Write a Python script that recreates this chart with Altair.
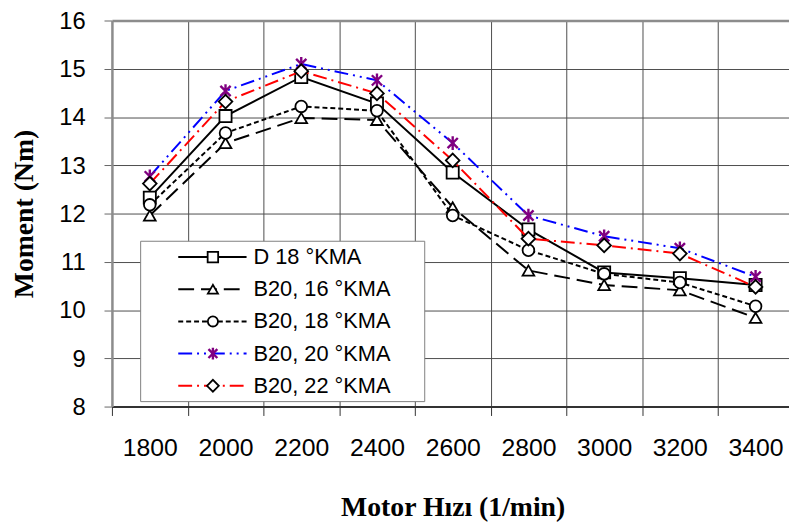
import altair as alt
import pandas as pd

rpm = [1800, 2000, 2200, 2400, 2600, 2800, 3000, 3200, 3400]
series_names = ["D 18 °KMA", "B20, 16 °KMA", "B20, 18 °KMA", "B20, 20 °KMA", "B20, 22 °KMA"]
d18 = [12.33, 14.02, 14.83, 14.28, 12.85, 11.67, 10.78, 10.66, 10.52]
b16 = [11.96, 13.46, 13.98, 13.94, 12.13, 10.82, 10.52, 10.41, 9.84]
b18 = [12.18, 13.67, 14.22, 14.13, 11.96, 11.24, 10.75, 10.57, 10.08]
b20 = [12.77, 14.54, 15.10, 14.76, 13.46, 11.96, 11.53, 11.28, 10.69]
b22 = [12.62, 14.32, 14.95, 14.49, 13.10, 11.48, 11.34, 11.17, 10.48]
y_ticks = [8, 9, 10, 11, 12, 13, 14, 15, 16]

values = [d18, b16, b18, b20, b22]

ASTER = "M-0.75,-0.75L0.75,0.75M-0.75,0.75L0.75,-0.75M0,-1L0,1"
line_colors = ["#000000", "#000000", "#000000", "#0000ff", "#ff0000"]
dashes = [None, [16, 7], [5, 3], [14, 5, 2, 5, 2, 5], [14, 5, 2, 5]]
shapes = ["square", "triangle-up", "circle", ASTER, "diamond"]
marker_stroke = ["#000000", "#000000", "#000000", "#800080", "#000000"]
sizes = [150, 140, 140, 190, 190]
marker_sw = [1.8, 1.8, 1.8, 2.4, 1.8]

rows = []
for name, vals in zip(series_names, values):
    for r, v in zip(rpm, vals):
        rows.append({"series": name, "rpm": r, "moment": v})
df = pd.DataFrame(rows)

FONT = "Arial, Liberation Sans, sans-serif"
TFONT = "Times New Roman, Liberation Serif, serif"

x_enc = alt.X(
    "rpm:O",
    scale=alt.Scale(type="band", paddingInner=0, paddingOuter=0, range=[0, 688.5]),
    axis=alt.Axis(
        title="Motor Hızı (1/min)",
        tickBand="extent",
        grid=True,
        gridColor="#4d4d4d",
        gridWidth=1,
        domainColor="#333333",
        domainWidth=2,
        tickColor="#333333",
        tickSize=9,
        tickWidth=1,
        labelFont=FONT,
        labelFontSize=25,
        labelPadding=20,
        labelColor="#000000",
        labelAngle=0,
        titleFont=TFONT,
        titleFontSize=28,
        titleFontWeight="bold",
        titleColor="#000000",
        titleY=110,
        titleBaseline="alphabetic",
    ),
)
y_enc = alt.Y(
    "moment:Q",
    scale=alt.Scale(domain=[8, 16], nice=False, zero=False),
    axis=alt.Axis(
        values=y_ticks,
        title="Moment (Nm)",
        grid=True,
        gridColor={"condition": {"test": "datum.value == 16", "value": "#8c8c8c"}, "value": "#4d4d4d"},
        gridWidth={"condition": {"test": "datum.value == 16", "value": 2.5}, "value": 1},
        domainColor="#8c8c8c",
        domainWidth=2.5,
        tickColor="#666666",
        tickSize=8,
        tickWidth=1,
        labelFont=FONT,
        labelFontSize=24,
        labelPadding=19,
        labelOffset=1,
        labelColor="#000000",
        titleFont=TFONT,
        titleFontSize=28,
        titleFontWeight="bold",
        titleColor="#000000",
        titleX=-88,
        titleY=195,
        titleAngle=270,
        titleBaseline="middle",
    ),
)

layers = []
for i, name in enumerate(series_names):
    sub = df[df["series"] == name]
    lkw = dict(color=line_colors[i], strokeWidth=2)
    if dashes[i] is not None:
        lkw["strokeDash"] = dashes[i]
    layers.append(alt.Chart(sub).mark_line(**lkw).encode(x=x_enc, y=y_enc))
    layers.append(
        alt.Chart(sub)
        .mark_point(shape=shapes[i], size=sizes[i], fill="#ffffff", fillOpacity=1,
                    stroke=marker_stroke[i], strokeWidth=marker_sw[i], opacity=1)
        .encode(x=x_enc, y=y_enc)
    )

# legend box
box_df = pd.DataFrame({"k": [0]})
layers.append(
    alt.Chart(box_df).mark_rect(fill="#ffffff", stroke="#808080", strokeWidth=1).encode(
        x=alt.value(29), x2=alt.value(316), y=alt.value(223), y2=alt.value(385)
    )
)
for i, name in enumerate(series_names):
    yy = 239 + 32.5 * i
    ldf = pd.DataFrame({"series": [name]})
    rkw = dict(color=line_colors[i], strokeWidth=2)
    if dashes[i] is not None:
        rkw["strokeDash"] = dashes[i]
    layers.append(alt.Chart(ldf).mark_rule(**rkw).encode(
        x=alt.value(67), x2=alt.value(136), y=alt.value(yy)))
    layers.append(alt.Chart(ldf).mark_point(
        shape=shapes[i], size=sizes[i] * 0.75, fill="#ffffff", fillOpacity=1,
        stroke=marker_stroke[i], strokeWidth=marker_sw[i], opacity=1
    ).encode(x=alt.value(102), y=alt.value(yy)))
    layers.append(alt.Chart(ldf).mark_text(
        align="left", baseline="middle", font=FONT, fontSize=22, color="#000000"
    ).encode(x=alt.value(143), y=alt.value(yy), text="series:N"))

chart = (
    alt.layer(*layers)
    .properties(
        width=684,
        height=390,
        autosize=alt.AutoSizeParams(type="none"),
        padding={"left": 105, "top": 10, "right": 0, "bottom": 116},
    )
    .configure_view(stroke=None)
)

chart.save("out.html", embed_options={"renderer": "svg", "actions": False})
